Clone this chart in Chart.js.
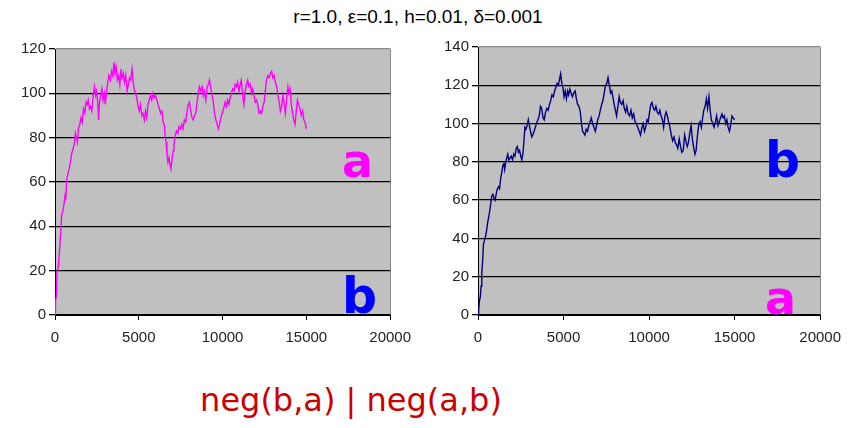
<!DOCTYPE html>
<html lang="en">
<head>
    <meta charset="UTF-8">
    <title>neg(b,a) | neg(a,b)</title>
    <script src="https://cdn.jsdelivr.net/npm/chart.js"></script>
    <style>
        body { margin: 0; width: 850px; height: 428px; background: #fff; position: relative; overflow: hidden; }
        .box { position: absolute; }
        .lbl { position: absolute; font-family: "Comic Sans MS", "DejaVu Sans", sans-serif; font-weight: bold; line-height: 1; }
        #title { position: absolute; top: 6px; left: 0; width: 836px; text-align: center; font: 19px "Liberation Sans", Arial, sans-serif; color: #000; }
        #caption { position: absolute; top: 381px; left: 0; width: 702px; text-align: center; font: 32px "Comic Sans MS", "DejaVu Sans", sans-serif; color: #cc0000; }
    </style>
</head>
<body>
    <div id="title">r=1.0, &epsilon;=0.1, h=0.01, &delta;=0.001</div>

    <div class="box" style="left:0; top:30px; width:420px; height:330px;"><canvas id="leftChart"></canvas></div>
    <div class="box" style="left:420px; top:30px; width:430px; height:330px;"><canvas id="rightChart"></canvas></div>

    <div class="lbl" style="left:342px; top:138px; font-size:46px; color:#ff00ff;">a</div>
    <div class="lbl" style="left:342px; top:272px; font-size:49px; color:#0000ff;">b</div>
    <div class="lbl" style="left:765px; top:136px; font-size:49px; color:#0000ff;">b</div>
    <div class="lbl" style="left:765px; top:275px; font-size:46px; color:#ff00ff;">a</div>

    <div id="caption">neg(b,a) | neg(a,b)</div>

    <script>
        // neg(b,a): amount of a over time
        const leftX = [0,30,80,120,200,280,350,400,470,540,600,650,700,780,850,920,1000,1080,1150,1220,1280,1340,1400,1480,1550,1620,1700,1780,1850,1920,1980,2050,2120,2200,2280,2350,2420,2480,2550,2600,2650,2720,2800,2870,2940,3000,3080,3150,3220,3300,3380,3450,3520,3580,3650,3720,3800,3870,3940,4000,4080,4150,4220,4300,4380,4450,4520,4600,4680,4750,4820,4900,4960,5030,5100,5180,5250,5330,5400,5480,5550,5620,5700,5770,5850,5920,6000,6080,6150,6230,6300,6380,6450,6520,6580,6630,6680,6740,6800,6860,6920,6980,7050,7100,7180,7250,7330,7400,7480,7560,7640,7720,7800,7880,7950,8020,8100,8180,8250,8330,8400,8480,8550,8620,8700,8780,8850,8920,9000,9080,9150,9220,9300,9380,9450,9520,9600,9680,9750,9820,9900,9980,10060,10150,10230,10300,10380,10450,10530,10600,10680,10750,10830,10900,10980,11050,11120,11200,11270,11350,11420,11500,11580,11650,11730,11800,11880,11950,12030,12100,12180,12250,12330,12400,12480,12550,12620,12700,12780,12850,12930,13000,13080,13150,13230,13300,13380,13450,13520,13600,13680,13750,13830,13900,13960,14030,14100,14180,14250,14320,14400,14470,14540,14620,14700,14780,14850,14920,15000];
        const leftY = [0,7,8,19,22,30,38,45,47,50,54,53,61,64,66,69,73,75,77,82,80,78,84,86,89,87,93,91,96,95,97,93,94,92,99,103,99,101,96,88,95,99,102,97,100,95,101,105,108,106,110,108,114,109,112,106,108,104,111,107,109,105,108,101,104,107,106,111,104,101,100,97,94,92,95,90,91,88,92,89,95,97,99,97,100,98,99,97,95,93,91,92,87,86,80,78,73,69,71,68,66,70,74,77,81,83,82,85,84,86,84,88,87,92,95,96,92,89,88,90,91,96,100,103,101,103,99,101,97,103,104,106,102,99,96,91,88,86,84,86,89,91,93,96,94,97,95,98,100,102,101,104,103,105,101,104,106,99,95,101,104,106,103,104,100,102,99,96,97,95,91,92,91,94,96,101,106,108,107,109,110,107,108,105,103,99,96,92,94,99,95,91,98,103,100,102,95,91,88,86,92,97,95,93,90,92,88,87,84];

        // neg(a,b): amount of b over time
        const rightX = [0,40,90,130,180,220,270,320,380,440,500,560,620,680,740,800,870,940,1000,1060,1130,1200,1260,1320,1380,1450,1510,1560,1620,1680,1740,1800,1870,1940,2020,2090,2160,2230,2300,2360,2430,2500,2560,2620,2680,2740,2800,2870,2940,3000,3070,3140,3200,3280,3350,3420,3500,3580,3650,3720,3800,3870,3950,4030,4100,4180,4250,4320,4400,4480,4550,4620,4700,4760,4830,4900,4960,5030,5100,5170,5240,5300,5370,5440,5520,5600,5680,5750,5820,5900,5980,6050,6110,6180,6250,6320,6400,6480,6550,6620,6700,6780,6860,6930,7000,7080,7150,7230,7300,7380,7450,7530,7600,7680,7750,7820,7900,7960,8030,8100,8180,8250,8320,8400,8480,8550,8630,8700,8780,8860,8940,9020,9100,9180,9260,9340,9420,9500,9580,9650,9730,9800,9880,9950,10030,10100,10170,10250,10330,10400,10480,10560,10630,10700,10780,10850,10930,11000,11070,11140,11220,11300,11380,11460,11530,11600,11680,11760,11840,11920,12000,12080,12150,12230,12300,12380,12460,12530,12600,12680,12750,12830,12900,12980,13060,13130,13200,13280,13350,13420,13500,13570,13640,13720,13800,13880,13950,14030,14100,14180,14260,14330,14400,14480,14550,14620,14700,14780,14850,14920,15000];
        const rightY = [0,3,8,9,15,22,28,37,39,41,44,48,51,54,58,62,63,61,60,63,66,67,66,71,74,78,79,76,80,82,84,81,82,83,81,84,83,87,88,85,86,83,81,84,90,98,97,99,102,99,96,93,94,96,98,100,102,104,109,108,103,102,106,108,107,110,112,115,114,117,119,121,120,123,126,121,119,114,117,113,117,115,118,116,114,116,117,113,110,109,106,100,96,95,94,97,96,99,101,103,100,98,96,99,102,104,107,110,112,116,120,121,124,120,116,117,113,110,107,104,109,114,111,110,112,108,106,109,105,104,107,103,105,101,100,98,96,94,98,100,96,98,102,101,106,110,111,108,107,109,106,105,107,104,102,98,104,106,104,101,98,94,91,93,90,89,87,92,88,85,86,94,91,88,90,95,99,92,88,84,86,94,99,101,98,103,107,109,113,108,114,107,102,100,98,101,104,99,101,103,105,103,104,100,102,98,96,100,104,103,102];

        const xTicks = [0, 5000, 10000, 15000, 20000];
        const leftMax = 120;
        const rightMax = 140;

        const plotBg = {
            id: 'plotBg',
            beforeDraw(chart) {
                const a = chart.chartArea;
                chart.ctx.save();
                chart.ctx.fillStyle = '#c0c0c0';
                chart.ctx.fillRect(a.left, a.top, a.right - a.left, a.bottom - a.top);
                chart.ctx.restore();
            }
        };

        function makeChart(id, xs, ys, color, yMax, yWidth, pad) {
            const ctx = document.getElementById(id).getContext('2d');
            return new Chart(ctx, {
                type: 'line',
                data: {
                    datasets: [{
                        data: xs.map((x, i) => ({ x: x, y: ys[i] })),
                        borderColor: color,
                        borderWidth: 1.4,
                        pointRadius: 0,
                        tension: 0,
                        fill: false,
                    }],
                },
                options: {
                    responsive: true,
                    maintainAspectRatio: false,
                    animation: false,
                    events: [],
                    layout: { padding: pad },
                    plugins: { legend: { display: false }, tooltip: { enabled: false } },
                    scales: {
                        x: {
                            type: 'linear',
                            min: 0,
                            max: 20000,
                            afterBuildTicks: (s) => { s.ticks = xTicks.map(v => ({ value: v })); },
                            afterFit: (s) => { s.height = 45; },
                            grid: {
                                color: (c) => c.tick && c.tick.value === 20000 ? '#8a8a8a' : 'rgba(0,0,0,0)',
                                tickColor: '#000',
                                tickLength: 5,
                            },
                            border: { color: '#000', width: 1 },
                            ticks: {
                                padding: 9,
                                maxRotation: 0,
                                autoSkip: false,
                                color: '#222',
                                font: { family: '"Liberation Sans", Arial, sans-serif', size: 15 },
                                callback: (v) => String(v),
                            },
                        },
                        y: {
                            min: 0,
                            max: yMax,
                            afterFit: (s) => { s.width = yWidth; },
                            grid: {
                                color: (c) => c.tick && c.tick.value === yMax ? '#8a8a8a' : '#000',
                                tickColor: '#000',
                                tickLength: 6,
                                lineWidth: 1.3,
                            },
                            border: { color: '#000', width: 1 },
                            ticks: {
                                stepSize: 20,
                                padding: 3,
                                color: '#222',
                                font: { family: '"Liberation Sans", Arial, sans-serif', size: 15 },
                            },
                        },
                    },
                },
                plugins: [plotBg],
            });
        }

        makeChart('leftChart', leftX, leftY, '#ff00ff', leftMax, 55, { left: 0, right: 23, top: 19, bottom: 0 });
        makeChart('rightChart', rightX, rightY, '#000080', rightMax, 58, { left: 0, right: 27, top: 17, bottom: 0 });
    </script>
</body>
</html>
